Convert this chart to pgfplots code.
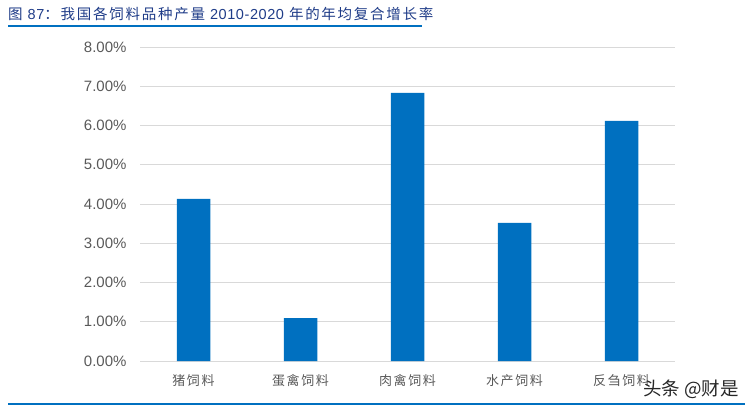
\documentclass[border=0pt]{standalone}
\usepackage{pgfplots}
\pgfplotsset{compat=1.18}
\usepackage{fontspec}
\setmainfont{Liberation Sans}
\newfontfamily\cjk{Noto Sans CJK SC}
\newfontfamily\cjksp[LetterSpace=12]{Noto Sans CJK SC}
\newfontfamily\arialsp[LetterSpace=4]{Liberation Sans}
\definecolor{barblue}{HTML}{0070C0}
\definecolor{titleblue}{HTML}{1F3C88}
\definecolor{ticktext}{HTML}{595959}
\definecolor{gridgray}{HTML}{D9D9D9}

\begin{document}
\begin{tikzpicture}[x=1pt,y=1pt]
\path[use as bounding box] (0,0) rectangle (753,408);
% title and rules
\node[anchor=west, titleblue, inner sep=0] at (8,394)
  {\fontsize{14.5}{14.5}\selectfont\cjksp 图 {\arialsp 87}：我国各饲料品种产量 {\arialsp 2010-2020} 年的年均复合增长率};
\draw[barblue, line width=1.2pt] (8,382) -- (422,382);
\draw[barblue, line width=1.2pt] (8,4) -- (745,4);

\begin{axis}[
  at={(140pt,47pt)}, anchor=south west,
  scale only axis, width=535pt, height=314pt,
  ybar, bar width=33.5pt,
  xmin=-0.5, xmax=4.5, ymin=0, ymax=8,
  xtick={0,...,4},
  xticklabels={猪饲料, 蛋禽饲料, 肉禽饲料, 水产饲料, 反刍饲料},
  ytick={0,...,8},
  yticklabel={\pgfmathprintnumber[fixed, fixed zerofill, precision=2]{\tick}\%},
  /pgf/number format/assume math mode=true,
  ymajorgrids=true,
  grid style={gridgray, line width=0.8pt},
  axis line style={draw=none},
  tick style={draw=none},
  yticklabel style={font=\fontsize{15}{15}\selectfont, text=ticktext, xshift=-10pt},
  xticklabel style={font=\fontsize{13}{13}\selectfont\cjksp, text=ticktext, yshift=-6pt},
]
\addplot[fill=barblue, draw=none] coordinates {
  (0,4.13) (1,1.09) (2,6.83) (3,3.52) (4,6.12)
};
\end{axis}

\node[anchor=west, inner sep=0, text=black!85] at (643,19)
  {\fontsize{18.5}{18.5}\selectfont\cjk 头条 @财是};
\end{tikzpicture}
\end{document}
